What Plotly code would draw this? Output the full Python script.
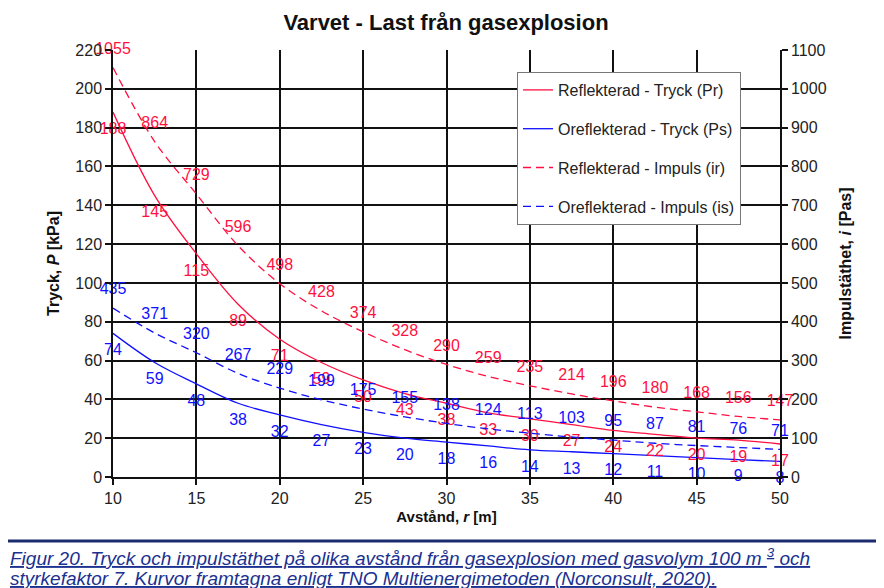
import plotly.graph_objects as go

# ---- data ----
distance = [10, 12.5, 15, 17.5, 20, 22.5, 25, 27.5, 30, 32.5, 35, 37.5, 40, 42.5, 45, 47.5, 50]
tryck_reflekterad = [188, 145, 115, 89, 71, 59, 50, 43, 38, 33, 30, 27, 24, 22, 20, 19, 17]
tryck_oreflekterad = [74, 59, 48, 38, 32, 27, 23, 20, 18, 16, 14, 13, 12, 11, 10, 9, 8]
impuls_reflekterad = [1055, 864, 729, 596, 498, 428, 374, 328, 290, 259, 235, 214, 196, 180, 168, 156, 147]
impuls_oreflekterad = [435, 371, 320, 267, 229, 199, 175, 155, 138, 124, 113, 103, 95, 87, 81, 76, 71]

names = ["Reflekterad - Tryck (Pr)", "Oreflekterad - Tryck (Ps)",
         "Reflekterad - Impuls (ir)", "Oreflekterad - Impuls (is)"]

RED = "#ff1040"
BLUE = "#1010ff"
FONT = "Liberation Sans, Arial, sans-serif"

series = [
    (tryck_reflekterad, names[0], RED, "solid", "y", "bottom center"),
    (tryck_oreflekterad, names[1], BLUE, "solid", "y", "bottom center"),
    (impuls_reflekterad, names[2], RED, "8px,5px", "y2", "top center"),
    (impuls_oreflekterad, names[3], BLUE, "8px,5px", "y2", "top center"),
]

fig = go.Figure()
for i, (vals, name, col, dash, yax, tpos) in enumerate(series):
    fig.add_trace(go.Scatter(
        x=distance, y=vals, name=name, mode="lines", yaxis=yax,
        line=dict(color=col, width=1.3, dash=dash, shape="spline"),
        legendgroup=f"g{i}", legendrank=i + 1,
    ))
for i, (vals, name, col, dash, yax, tpos) in enumerate(series):
    fig.add_trace(go.Scatter(
        x=distance, y=vals, mode="markers+text", yaxis=yax, showlegend=False,
        text=[str(v) for v in vals], textposition=tpos,
        textfont=dict(family=FONT, size=16, color=col),
        marker=dict(size=14, opacity=0), cliponaxis=False, hoverinfo="skip",
    ))

axis_common = dict(
    showline=True, linecolor="#111", linewidth=1.5, mirror=False,
    ticks="outside", ticklen=6, tickcolor="#111", tickwidth=1.5,
    tickfont=dict(family=FONT, size=16, color="#222"),
    zeroline=False,
)

# page body adds an 8px offset, so the figure is 8px smaller than the window
W, H = 876, 580
L, R, T, B = 105, 104, 42, 111
PW, PH = W - L - R, H - T - B

fig.update_layout(
    width=W, height=H,
    paper_bgcolor="white", plot_bgcolor="white",
    margin=dict(l=L, r=R, t=T, b=B),
    title=dict(text="<b>Varvet - Last från gasexplosion</b>",
               font=dict(family=FONT, size=22, color="#111"),
               x=(446 - 8) / W, xanchor="center", y=1 - 14 / H, yanchor="middle"),
    xaxis=dict(range=[10, 50], dtick=5, showgrid=True, gridcolor="#111", gridwidth=1.5,
               title=dict(text="<b>Avstånd, <i>r</i> [m]</b>", font=dict(family=FONT, size=15, color="#111"), standoff=6),
               **axis_common),
    yaxis=dict(range=[0, 220], dtick=20, showgrid=True, gridcolor="#111", gridwidth=1.5,
               title=dict(text="<b>Tryck, <i>P</i> [kPa]</b>", font=dict(family=FONT, size=16, color="#111"), standoff=12),
               **axis_common),
    yaxis2=dict(range=[0, 1100], dtick=100, overlaying="y", side="right", showgrid=False,
                title=dict(text="<b>Impulstäthet, <i>i</i> [Pas]</b>", font=dict(family=FONT, size=16, color="#111"), standoff=14),
                **axis_common),
    legend=dict(x=(517 - 113) / PW, y=(477 - 72) / PH, xanchor="left", yanchor="top",
                bgcolor="white", bordercolor="#777", borderwidth=1,
                font=dict(family=FONT, size=16, color="#222"),
                traceorder="grouped", tracegroupgap=15),
    showlegend=True,
)

yline = (477 - 541) / PH
fig.add_shape(type="line", xref="paper", yref="paper",
              x0=(0 - L) / PW, x1=(W - L) / PW, y0=yline, y1=yline,
              line=dict(color="#1c2a6e", width=3))

caption1 = "<i><u>Figur 20. Tryck och impulstäthet på olika avstånd från gasexplosion med gasvolym 100 m <sup>3</sup> och</u></i>"
caption2 = "<i><u>styrkefaktor 7. Kurvor framtagna enligt TNO Multienergimetoden (Norconsult, 2020).</u></i>"
for cap, ypx in [(caption1, 557), (caption2, 578)]:
    fig.add_annotation(xref="paper", yref="paper", x=(8 - 113) / PW, y=(477 - ypx) / PH,
                       xanchor="left", yanchor="middle", align="left", showarrow=False,
                       text=cap, font=dict(family=FONT, size=19, color="#1a3190"))

fig.write_html("out.html")
